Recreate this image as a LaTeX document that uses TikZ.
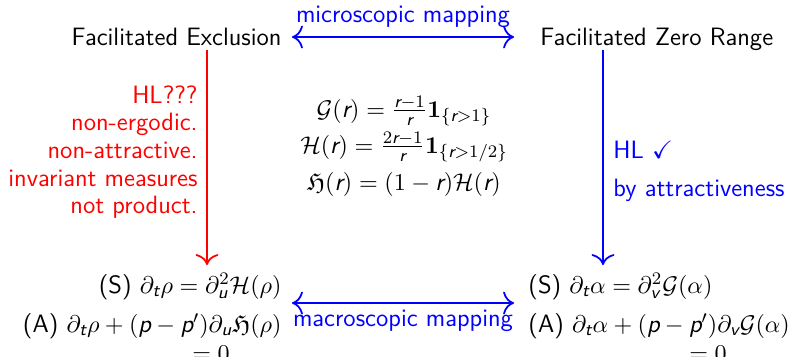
\documentclass[tikz,border=0pt]{standalone}
\usepackage{amsmath,amssymb}
\usetikzlibrary{cd}
\newcommand{\sv}[1]{\text{\sffamily\slshape #1}}
\tikzset{
  txt/.style={inner sep=0pt, font=\sffamily\fontsize{11.4}{13}\selectfont},
  arr/.style={thick, -{cm to}},
  darr/.style={thick, {cm to}-{cm to}},
}
\begin{document}
\begin{tikzpicture}[x=0.4541pt,y=-0.4541pt]
\useasboundingbox (0,0) rectangle (796,356);
% top row
\node[txt, anchor=base east] (fe) at (282,45) {Facilitated Exclusion};
\node[txt, anchor=base west] (fz) at (540,45) {Facilitated Zero Range};
\coordinate (tl) at (292,37);
\coordinate (tr) at (514,37);
\draw[darr, blue] (tl) -- (tr) node[txt, midway, anchor=base, yshift=6.4pt] (mic) {microscopic mapping};
% vertical arrows
\coordinate (rl0) at (207,50);
\coordinate (rl1) at (207,265);
\draw[arr, red] (rl0) -- (rl1);
\coordinate (bl0) at (603,50);
\coordinate (bl1) at (603,265);
\draw[arr, blue] (bl0) -- (bl1);
% red label
\node[txt, red, anchor=base east] (r1) at (198,103) {HL???};
\node[txt, red, anchor=base east] (r2) at (198,130) {non-ergodic.};
\node[txt, red, anchor=base east] (r3) at (198,158) {non-attractive.};
\node[txt, red, anchor=base east] (r4) at (198,186) {invariant measures};
\node[txt, red, anchor=base east] (r5) at (198,213) {not product.};
% blue label
\node[txt, blue, anchor=base west] (b1) at (613,158) {HL $\checkmark$};
\node[txt, blue, anchor=base west] (b2) at (613,196) {by attractiveness};
% middle formulas
\node[txt, anchor=base] (g) at (404,117) {$\mathcal{G}(\sv{r}) = \frac{\sv{r}-1}{\sv{r}}\mathbf{1}_{\{\sv{r}>1\}}$};
\node[txt, anchor=base] (h) at (404,153) {$\mathcal{H}(\sv{r}) = \frac{2\sv{r}-1}{\sv{r}}\mathbf{1}_{\{\sv{r}>1/2\}}$};
\node[txt, anchor=base] (hh) at (404,190) {$\mathfrak{H}(\sv{r}) = (1-\sv{r})\mathcal{H}(\sv{r})$};
% bottom left
\node[txt, anchor=base east] (ls) at (282,293) {(S) $\partial_{\sv{t}}\rho = \partial_{\sv{u}}^2\mathcal{H}(\rho)$};
\node[txt, anchor=base east] (la) at (282,332) {(A) $\partial_{\sv{t}}\rho + (\sv{p}-\sv{p}')\partial_{\sv{u}}\mathfrak{H}(\rho)$};
\node[txt, anchor=base] (lz) at (211,361) {$=0$};
% bottom right
\node[txt, anchor=base west] (rs) at (528,293) {(S) $\partial_{\sv{t}}\alpha = \partial_{\sv{v}}^2\mathcal{G}(\alpha)$};
\node[txt, anchor=base west] (ra) at (528,332) {(A) $\partial_{\sv{t}}\alpha + (\sv{p}-\sv{p}')\partial_{\sv{v}}\mathcal{G}(\alpha)$};
\node[txt, anchor=base] (rz) at (708,361) {$=0$};
% bottom arrow
\coordinate (bl) at (292,303);
\coordinate (br) at (514,303);
\draw[darr, blue] (bl) -- (br) node[txt, midway, anchor=base, yshift=-10.5pt] (mac) {macroscopic mapping};
\end{tikzpicture}
\end{document}
